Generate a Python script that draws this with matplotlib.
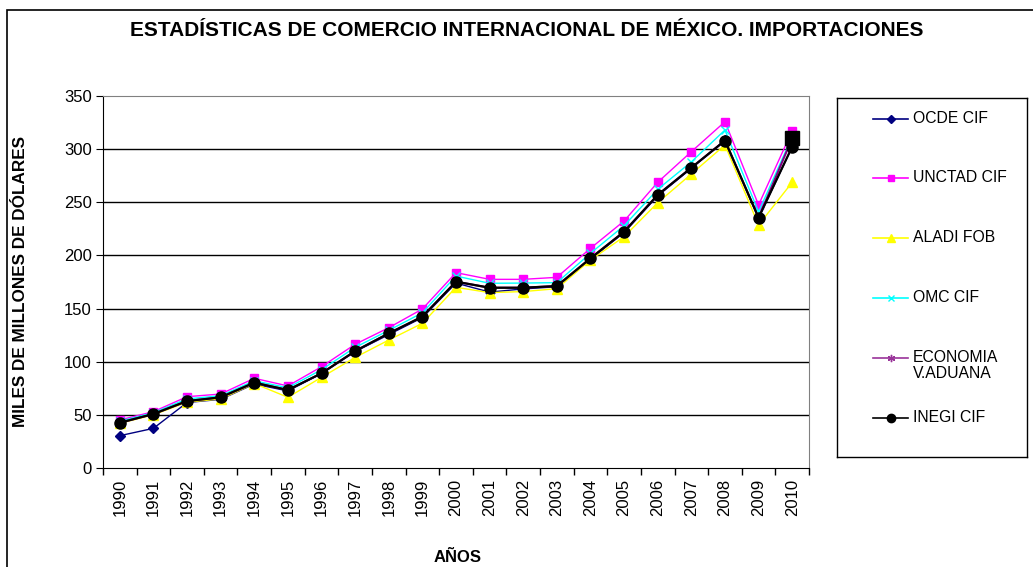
import matplotlib
matplotlib.use("Agg")
import matplotlib.pyplot as plt
from matplotlib.patches import Rectangle
from matplotlib.lines import Line2D

plt.rcParams['font.family'] = ['Liberation Sans', 'DejaVu Sans']

# --- Datos (miles de millones de dólares) ---
anios = [str(a) for a in range(1990, 2011)]
ocde = [30.4, 37.3, 61.6, 64.6, 79.0, 72.5, 89.0, 109.5, 125.5, 141.5, 174.0, 165.5, 168.5, 170.5, 196.5, 221.5, 256.0, 282.0, 308.5, 235.0, 302.0]
unctad = [45.2, 53.0, 67.1, 69.6, 84.4, 77.2, 95.3, 116.4, 132.0, 149.6, 183.8, 177.5, 177.5, 179.4, 206.7, 232.4, 268.8, 297.6, 325.8, 247.5, 317.4]
aladi = [42.0, 50.0, 62.0, 65.0, 79.5, 66.5, 85.3, 104.0, 120.4, 136.1, 170.0, 165.0, 166.0, 168.7, 195.7, 217.6, 249.6, 276.6, 303.9, 228.6, 268.8]
omc = [44.0, 52.0, 65.0, 68.0, 82.0, 75.5, 92.5, 113.5, 129.5, 146.0, 180.6, 173.8, 174.0, 174.4, 202.0, 228.0, 262.2, 288.0, 318.0, 241.0, 311.7]
economia = [42.6, 50.8, 63.0, 66.5, 80.3, 73.4, 89.1, 110.0, 126.7, 142.4, 175.3, 169.6, 169.6, 171.2, 197.3, 222.3, 256.9, 282.5, 308.0, 235.5, 310.2]
inegi = [42.6, 50.8, 63.0, 66.5, 80.3, 73.4, 89.1, 110.0, 126.7, 142.4, 175.3, 169.6, 169.6, 171.2, 197.3, 222.3, 256.9, 282.5, 308.0, 235.5, 302.3]

series = [
    ("OCDE CIF", ocde, "#000080", "D", 5, 1.0),
    ("UNCTAD CIF", unctad, "#FF00FF", "s", 6, 1.0),
    ("ALADI FOB", aladi, "#FFFF00", "^", 7, 1.0),
    ("OMC CIF", omc, "#00FFFF", "x", 6, 1.0),
    ("ECONOMIA\nV.ADUANA", economia, "#800080", (6, 2, 0), 7, 1.5),
    ("INEGI CIF", inegi, "#000000", "o", 8, 1.6),
]

fig = plt.figure(figsize=(10.33, 5.67), dpi=100)
ax = fig.add_axes([103 / 1033, 1 - 468 / 567, 706 / 1033, 372 / 567])

x = list(range(len(anios)))
for nombre, vals, color, mk, ms, lw in series:
    ax.plot(x, vals, color=color, lw=lw, marker=mk, ms=ms,
            mec=color, mfc=color, zorder=3)

# punto 2010 de ECONOMIA con marcador cuadrado negro
ax.plot(x[-1], economia[-1], marker="s", ms=10, color="black", zorder=4)

ax.set_xlim(-0.5, len(anios) - 0.5)
ax.set_ylim(0, 350)
ax.set_yticks(range(0, 351, 50))
ax.set_xticks([i - 0.5 for i in x] + [len(anios) - 0.5], minor=False)
ax.set_xticklabels([])
ax.set_xticks(x, minor=True)
ax.set_xticklabels(anios, minor=True, rotation=90, fontsize=12)
ax.tick_params(axis="x", which="minor", length=0, pad=8)
ax.tick_params(axis="x", which="major", length=5, direction="out", width=1)
ax.tick_params(axis="y", length=5, direction="out", labelsize=12, pad=3)

for v in range(50, 350, 50):
    ax.axhline(v, color="black", lw=1, zorder=1)

ax.spines["top"].set_color("#808080")
ax.spines["right"].set_color("#808080")
ax.spines["left"].set_color("black")
ax.spines["bottom"].set_color("black")

fig.text(21 / 1033, 1 - 281.5 / 567, "MILES DE MILLONES DE DÓLARES", rotation=90,
         ha="center", va="center", fontsize=12.3, fontweight="bold")
fig.text(458 / 1033, 1 - 558 / 567, "AÑOS", ha="center", va="center",
         fontsize=12, fontweight="bold")
fig.text(527 / 1033, 1 - 31 / 567,
         "ESTADÍSTICAS DE COMERCIO INTERNACIONAL DE MÉXICO. IMPORTACIONES",
         ha="center", va="center", fontsize=15, fontweight="bold")

# --- Leyenda ---
lax = fig.add_axes([837 / 1033, 1 - 457 / 567, 190 / 1033, 359 / 567])
lax.set_xlim(837, 1027)
lax.set_ylim(457, 98)
lax.set_xticks([])
lax.set_yticks([])
for s in lax.spines.values():
    s.set_color("black")
    s.set_linewidth(1)
ys = [119, 178, 238, 298, 358, 418]
for (nombre, vals, color, mk, ms, lw), yy in zip(series, ys):
    lc = "#993399" if nombre.startswith("ECONOMIA") else color
    lax.add_line(Line2D([873, 908], [yy, yy], color=lc, lw=1.2))
    lax.plot([890.5], [yy], marker=mk, ms=ms * 0.75, color=lc, mec=lc, mfc=lc)
    lax.text(913, yy - 8, nombre, ha="left", va="top", fontsize=11.3, linespacing=1.1)

# borde exterior
fig.patches.append(Rectangle((7 / 1033, -0.1), 1.2, 1 - 10 / 567 + 0.1,
                             transform=fig.transFigure, fill=False,
                             edgecolor="black", lw=1.2))

fig.savefig("out.png", dpi=100)
